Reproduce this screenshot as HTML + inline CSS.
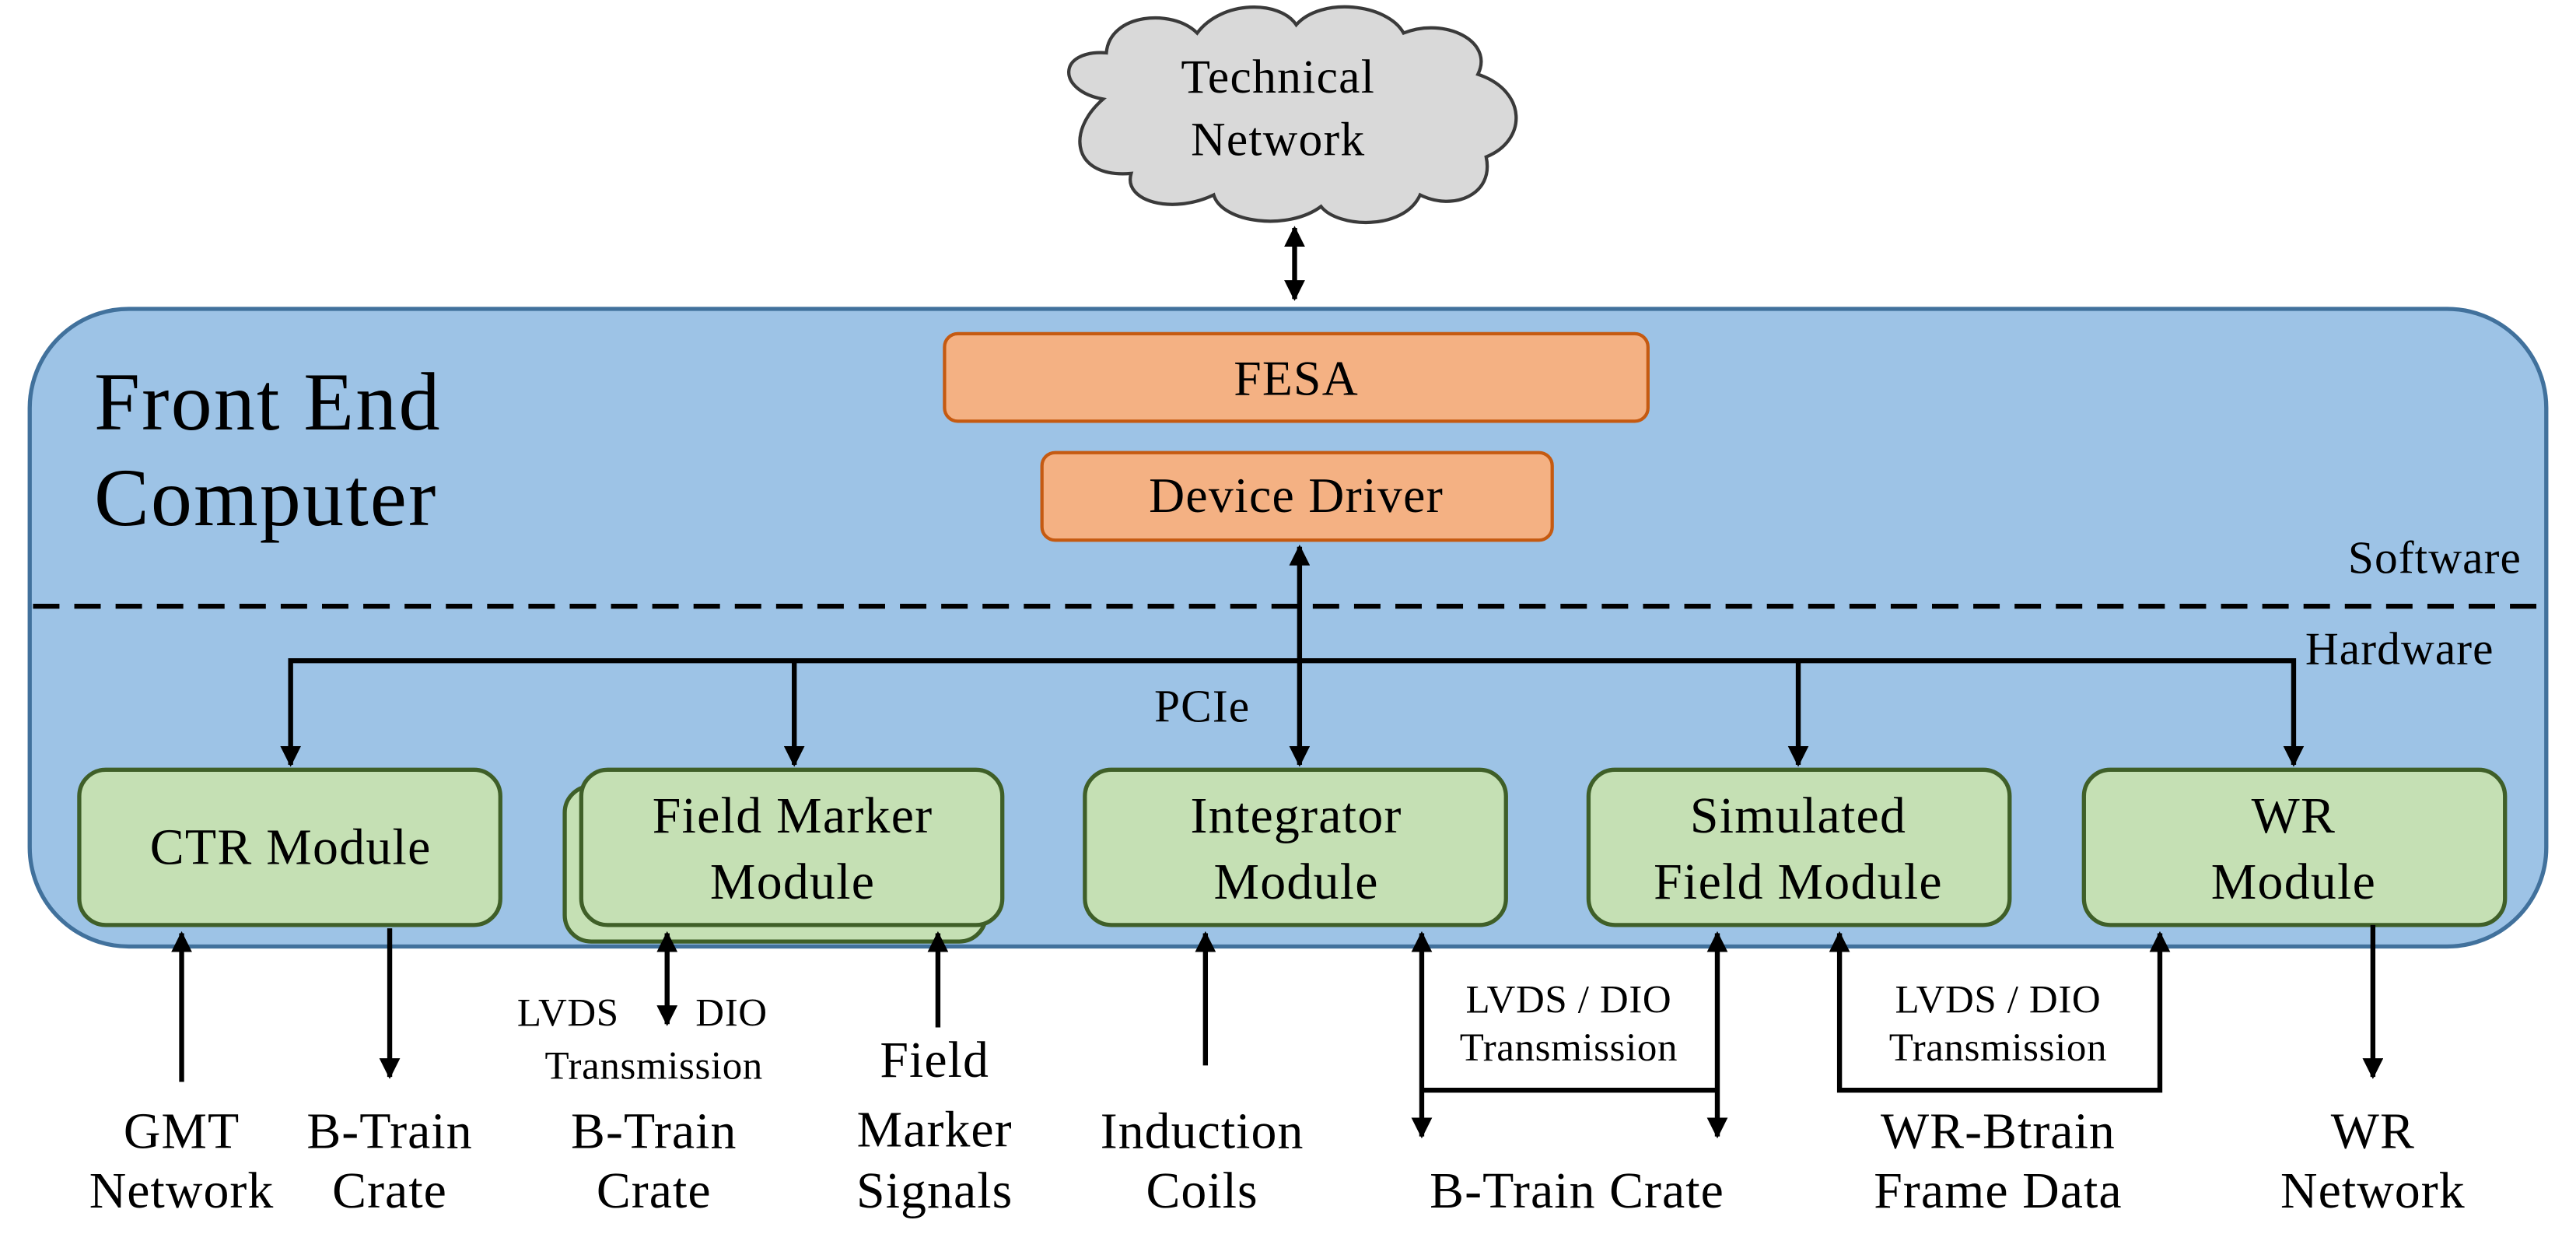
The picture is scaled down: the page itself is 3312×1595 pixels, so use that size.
<!DOCTYPE html>
<html><head><meta charset="utf-8"><style>html,body{margin:0;padding:0;background:#fff}svg{display:block}</style></head>
<body>
<svg width="3312" height="1595" viewBox="0 0 1560 751.3" preserveAspectRatio="none" xmlns="http://www.w3.org/2000/svg" font-family="'Liberation Serif', serif">
<defs>
<marker id="a" viewBox="0 0 10 10" refX="9" refY="5" markerWidth="4.2" markerHeight="4.2" orient="auto-start-reverse"><path d="M0,0 L10,5 L0,10 z" fill="#000"/></marker>
</defs>
<g fill="#d9d9d9" stroke="#3a3a3a" stroke-width="2">
<path d="M668,60 C640,55 640,30 670,32 C672,8 710,5 725,20 C740,0 775,0 785,15 C800,-2 840,2 850,20 C875,10 905,25 895,45 C925,55 925,85 900,95 C905,118 880,128 860,118 C850,140 810,138 800,125 C780,140 740,135 735,118 C710,130 680,122 685,105 C650,108 645,80 668,60 z"/>
</g>
<g letter-spacing="0.6">
<text x="774" y="56" font-size="29" text-anchor="middle">Technical</text>
<text x="774" y="94" font-size="29" text-anchor="middle">Network</text>
</g>
<line x1="784" y1="138" x2="784" y2="181" stroke="#000" stroke-width="3" marker-start="url(#a)" marker-end="url(#a)"/>
<rect x="18" y="187" width="1524" height="386" rx="60" fill="#9dc3e6" stroke="#41719c" stroke-width="2.5"/>
<text x="57" y="260" font-size="50" letter-spacing="1">Front End</text>
<text x="57" y="318" font-size="50" letter-spacing="1">Computer</text>
<rect x="572" y="202" width="426" height="53" rx="8" fill="#f4b183" stroke="#c55a11" stroke-width="2"/>
<text x="785" y="239" font-size="30" text-anchor="middle" letter-spacing="0.6">FESA</text>
<rect x="631" y="274" width="309" height="53" rx="8" fill="#f4b183" stroke="#c55a11" stroke-width="2"/>
<text x="785" y="310" font-size="30" text-anchor="middle" letter-spacing="0.6">Device Driver</text>
<g font-size="28" letter-spacing="0.5">
<text x="1527" y="347" text-anchor="end">Software</text>
<text x="1396" y="402">Hardware</text>
<text x="699" y="437">PCIe</text>
</g>
<line x1="20" y1="367" x2="1540" y2="367" stroke="#000" stroke-width="3" stroke-dasharray="16,9"/>
<g stroke="#000" stroke-width="3" fill="none">
<line x1="787" y1="400" x2="787" y2="331" marker-end="url(#a)"/>
<line x1="787" y1="400" x2="787" y2="463" marker-end="url(#a)"/>
<polyline points="176,463 176,400 1389,400 1389,463" marker-start="url(#a)" marker-end="url(#a)"/>
<line x1="481" y1="400" x2="481" y2="463" marker-end="url(#a)"/>
<line x1="1089" y1="400" x2="1089" y2="463" marker-end="url(#a)"/>
</g>
<g fill="#c5e0b4" stroke="#3f5f28" stroke-width="2.5">
<rect x="48" y="466" width="255" height="94" rx="16"/>
<rect x="342" y="476" width="255" height="94" rx="16"/>
<rect x="352" y="466" width="255" height="94" rx="16"/>
<rect x="657" y="466" width="255" height="94" rx="16"/>
<rect x="962" y="466" width="255" height="94" rx="16"/>
<rect x="1262" y="466" width="255" height="94" rx="16"/>
</g>
<g font-size="31" text-anchor="middle" letter-spacing="0.6">
<text x="176" y="523">CTR Module</text>
<text x="480" y="504">Field Marker</text><text x="480" y="544">Module</text>
<text x="785" y="504">Integrator</text><text x="785" y="544">Module</text>
<text x="1089" y="504">Simulated</text><text x="1089" y="544">Field Module</text>
<text x="1389" y="504">WR</text><text x="1389" y="544">Module</text>
</g>
<g stroke="#000" stroke-width="3" fill="none">
<line x1="110" y1="655" x2="110" y2="565" marker-end="url(#a)"/>
<line x1="236" y1="562" x2="236" y2="652" marker-end="url(#a)"/>
<line x1="404" y1="565" x2="404" y2="620" marker-start="url(#a)" marker-end="url(#a)"/>
<line x1="568" y1="622" x2="568" y2="565" marker-end="url(#a)"/>
<line x1="730" y1="645" x2="730" y2="565" marker-end="url(#a)"/>
<line x1="861" y1="565" x2="861" y2="688" marker-start="url(#a)" marker-end="url(#a)"/>
<line x1="1040" y1="565" x2="1040" y2="688" marker-start="url(#a)" marker-end="url(#a)"/>
<line x1="861" y1="660" x2="1040" y2="660"/>
<polyline points="1114,565 1114,660 1308,660 1308,565" marker-start="url(#a)" marker-end="url(#a)"/>
<line x1="1437" y1="560" x2="1437" y2="652" marker-end="url(#a)"/>
</g>
<g font-size="24" text-anchor="middle" letter-spacing="0.3">
<text x="344" y="621">LVDS</text><text x="443" y="621">DIO</text>
<text x="396" y="653">Transmission</text>
<text x="950" y="613">LVDS / DIO</text><text x="950" y="642">Transmission</text>
<text x="1210" y="613">LVDS / DIO</text><text x="1210" y="642">Transmission</text>
</g>
<g font-size="31" text-anchor="middle" letter-spacing="0.5">
<text x="110" y="695">GMT</text><text x="110" y="731">Network</text>
<text x="236" y="695">B-Train</text><text x="236" y="731">Crate</text>
<text x="396" y="695">B-Train</text><text x="396" y="731">Crate</text>
<text x="566" y="652">Field</text><text x="566" y="694">Marker</text><text x="566" y="731">Signals</text>
<text x="728" y="695">Induction</text><text x="728" y="731">Coils</text>
<text x="955" y="731">B-Train Crate</text>
<text x="1210" y="695">WR-Btrain</text><text x="1210" y="731">Frame Data</text>
<text x="1437" y="695">WR</text><text x="1437" y="731">Network</text>
</g>
</svg>
</body></html>
